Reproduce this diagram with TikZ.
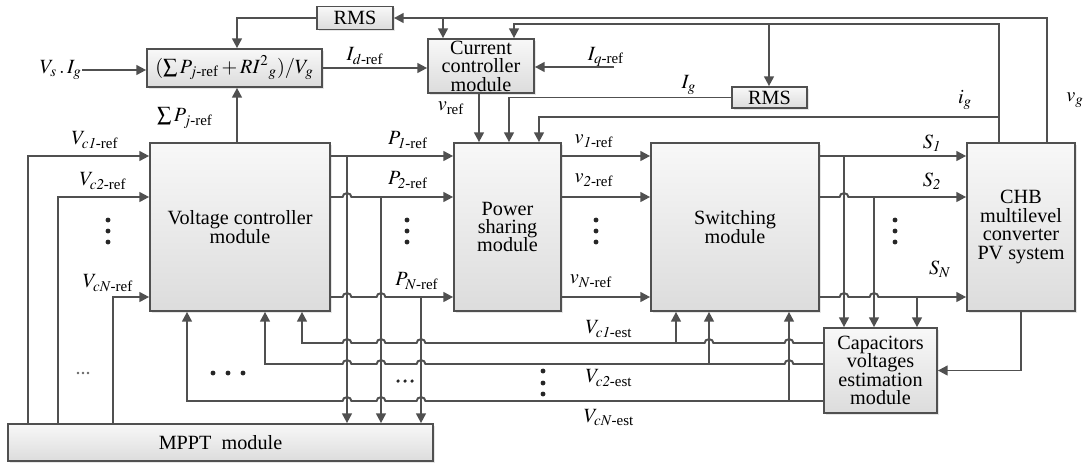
\documentclass[tikz,border=0pt]{standalone}
\usepackage{amsmath}
\usepackage{mathptmx}
\usepackage{fontspec}
\setmainfont{Liberation Serif}
\usetikzlibrary{arrows.meta, calc, shadows}
\definecolor{lineGray}{HTML}{505050}
\definecolor{boxTop}{HTML}{F8F8F8}
\definecolor{boxBottom}{HTML}{DCDCDC}
% wire jumping over a crossing wire (drawn to the right / to the left)
\newcommand{\hopR}[2]{-- ($(#1 |- #2)+(-2.5pt,0pt)$) arc[start angle=180, end angle=0, x radius=2.5pt, y radius=2.2pt]}
\newcommand{\hopL}[2]{-- ($(#1 |- #2)+(2.5pt,0pt)$) arc[start angle=0, end angle=180, x radius=2.5pt, y radius=2.2pt]}

\begin{document}
\begin{tikzpicture}[x=0.02cm, y=-0.02cm,
    font=\rmfamily\fontsize{11.5}{10.5}\selectfont,
    box/.style={draw=lineGray, line width=1pt, top color=boxTop, bottom color=boxBottom,
                align=center, inner sep=1pt,
                drop shadow={shadow xshift=1pt, shadow yshift=-1pt, opacity=0.2}},
    wire/.style={draw=lineGray, line width=1.1pt},
    arr/.style={wire, -{Triangle[length=5.5pt, width=5.5pt]}},
    lab/.style={inner sep=0pt},
    dot/.style={fill=black!85}
  ]
  \useasboundingbox (0,0) rectangle (1084,463);

  % blocks
  \node[box, minimum width=1.52cm, minimum height=0.46cm] (rms1) at (355,18) {RMS};
  \node[box, minimum width=3.5cm, minimum height=0.76cm] (form) at (234.5,68)
    {$(\sum P_{j\text{-ref}} + RI^{2}{}_{g})/V_{g}$};
  \node[box, minimum width=2.12cm, minimum height=1.04cm] (cc) at (481,66) {Current\\controller\\module};
  \node[box, minimum width=1.5cm, minimum height=0.42cm] (rms2) at (769.5,97.5) {RMS};
  \node[box, minimum width=3.6cm, minimum height=3.36cm] (vc) at (240,227) {Voltage controller\\module};
  \node[box, minimum width=2.14cm, minimum height=3.36cm] (ps) at (507.5,227) {Power\\sharing\\module};
  \node[box, minimum width=3.36cm, minimum height=3.36cm] (sw) at (735,227) {Switching\\module};
  \node[box, minimum width=2.16cm, minimum height=3.36cm] (chb) at (1021,227)
    {CHB\\multilevel\\converter\\PV system};
  \node[box, minimum width=2.26cm, minimum height=1.7cm] (cve) at (880.5,370.5)
    {Capacitors\\voltages\\estimation\\module};
  \node[box, minimum width=8.5cm, minimum height=0.74cm] (mppt) at (220.5,442.5) {MPPT\ \ module};

  % wire columns and rows
  \foreach \n/\x in {mp1/28, mp2/58, mpN/113, fbN/187, sumx/237, fb2/265, fb1/302,
                     tap1/347, tap2/381, tapN/421, vgcc/443, ccout/479, rmsps/509,
                     igcc/514, igps/539, up1/676, up2/709, igrms/769, upN/789,
                     st1/844, st2/874, stN/917, igx/999, vgx/1047}
    \coordinate (\n) at (\x,0);
  \foreach \n/\y in {vgy/18, igy/24, igpsy/117, row1/156, row2/197, rowN/297,
                     est1/343, est2/364, estN/401}
    \coordinate (\n) at (0,\y);
  \coordinate (iqin) at (614,67);

  % labels
  \node[lab, anchor=east] (vsig) at (82,70) {$V_{s}\,.\,I_{g}$};
  \node[lab] (idref) at (365,56) {$I_{d\text{-ref}}$};
  \node[lab] (iqref) at (606,57) {$I_{q\text{-ref}}$};
  \node[lab] (sumlab) at (185,118) {$\sum P_{j\text{-ref}}$};
  \node[lab] (vref) at (451,108) {$v_{\text{ref}}$};
  \node[lab] (iglab) at (689,85) {$I_{g}$};
  \node[lab] (igsmall) at (965,100) {$i_{g}$};
  \node[lab] (vglab) at (1075,100) {$v_{g}$};
  \node[lab] (vc1ref) at (95,140) {$V_{c\mathit{1}\text{-ref}}$};
  \node[lab] (vc2ref) at (103,181) {$V_{c\mathit{2}\text{-ref}}$};
  \node[lab] (vcnref) at (108,283) {$V_{cN\text{-ref}}$};
  \node[lab] (p1ref) at (408,140) {$P_{\mathit{1}\text{-ref}}$};
  \node[lab] (p2ref) at (408,180) {$P_{\mathit{2}\text{-ref}}$};
  \node[lab] (pnref) at (417,281) {$P_{N\text{-ref}}$};
  \node[lab] (v1ref) at (594,141) {$v_{\mathit{1}\text{-ref}}$};
  \node[lab] (v2ref) at (594,180) {$v_{\mathit{2}\text{-ref}}$};
  \node[lab] (vnref) at (591,281) {$v_{N\text{-ref}}$};
  \node[lab] (s1lab) at (932,143) {$S_{\mathit{1}}$};
  \node[lab] (s2lab) at (932,181) {$S_{\mathit{2}}$};
  \node[lab] (snlab) at (940,269) {$S_{N}$};
  \node[lab] (vc1est) at (609,329) {$V_{c\mathit{1}\text{-est}}$};
  \node[lab] (vc2est) at (609,378) {$V_{c\mathit{2}\text{-est}}$};
  \node[lab] (vcnest) at (609,418) {$V_{cN\text{-est}}$};

  % top feedback wires
  \draw[arr] (vgx |- chb.north) -- (vgx |- vgy) -- (rms1.east |- vgy);
  \draw[arr] (vgcc |- vgy) -- (vgcc |- cc.north);
  \draw[arr] (igx |- chb.north) -- (igx |- igy) -- (igcc |- igy) -- (igcc |- cc.north);
  \draw[arr] (igrms |- igy) -- (igrms |- rms2.north);
  \draw[arr] (rms1.west) -- (sumx |- rms1.west) -- (sumx |- form.north);
  \draw[arr] (sumx |- vc.north) -- (sumx |- form.south);
  \draw[arr] (vsig.east) -- (vsig.east -| form.west);
  \draw[arr] (form.east) -- (form.east -| cc.west);
  \draw[arr] (iqin) -- (iqin -| cc.east);
  \draw[arr] (ccout |- cc.south) -- (ccout |- ps.north);
  \draw[arr] (rms2.west) -- (rmsps |- rms2.west) -- (rmsps |- ps.north);
  \draw[arr] (igx |- igpsy) -- (igps |- igpsy) -- (igps |- ps.north);

  % references from MPPT
  \draw[arr] (mp1 |- mppt.north) -- (mp1 |- row1) -- (vc.west |- row1);
  \draw[arr] (mp2 |- mppt.north) -- (mp2 |- row2) -- (vc.west |- row2);
  \draw[arr] (mpN |- mppt.north) -- (mpN |- rowN) -- (vc.west |- rowN);

  % powers
  \draw[arr] (vc.east |- row1) -- (ps.west |- row1);
  \draw[arr] (vc.east |- row2) \hopR{tap1}{row2} -- (ps.west |- row2);
  \draw[arr] (vc.east |- rowN) \hopR{tap1}{rowN} \hopR{tap2}{rowN} -- (ps.west |- rowN);
  \draw[arr] (tap1 |- row1) -- (tap1 |- mppt.north);
  \draw[arr] (tap2 |- row2) -- (tap2 |- mppt.north);
  \draw[arr] (tapN |- rowN) -- (tapN |- mppt.north);

  % voltage references
  \foreach \r in {row1, row2, rowN}
    \draw[arr] (ps.east |- \r) -- (sw.west |- \r);

  % switching signals
  \draw[arr] (sw.east |- row1) -- (chb.west |- row1);
  \draw[arr] (sw.east |- row2) \hopR{st1}{row2} -- (chb.west |- row2);
  \draw[arr] (sw.east |- rowN) \hopR{st1}{rowN} \hopR{st2}{rowN} -- (chb.west |- rowN);
  \draw[arr] (st1 |- row1) -- (st1 |- cve.north);
  \draw[arr] (st2 |- row2) -- (st2 |- cve.north);
  \draw[arr] (stN |- rowN) -- (stN |- cve.north);

  % estimated voltages
  \draw[arr] (cve.west |- est1) \hopL{upN}{est1} \hopL{up2}{est1} \hopL{tapN}{est1}
    \hopL{tap2}{est1} \hopL{tap1}{est1} -- (fb1 |- est1) -- (fb1 |- vc.south);
  \draw[arr] (up1 |- est1) -- (up1 |- sw.south);
  \draw[arr] (cve.west |- est2) \hopL{upN}{est2} \hopL{tapN}{est2}
    \hopL{tap2}{est2} \hopL{tap1}{est2} -- (fb2 |- est2) -- (fb2 |- vc.south);
  \draw[arr] (up2 |- est2) -- (up2 |- sw.south);
  \draw[arr] (cve.west |- estN) \hopL{tapN}{estN} \hopL{tap2}{estN} \hopL{tap1}{estN}
    -- (fbN |- estN) -- (fbN |- vc.south);
  \draw[arr] (upN |- estN) -- (upN |- sw.south);
  \draw[arr] (chb.south) -- (chb.south |- cve.east) -- (cve.east);

  % dots
  \foreach \x in {108, 407, 596, 895}
    \foreach \y in {220, 231, 242}
      \fill[dot] (\x,\y) circle[radius=1.4pt];
  \foreach \y in {371, 383, 394}
    \fill[dot] (543,\y) circle[radius=1.4pt];
  \foreach \x in {213, 228, 243}
    \fill[dot] (\x,373) circle[radius=1.4pt];
  \foreach \x in {398, 405, 412}
    \fill[dot] (\x,381) circle[radius=1pt];
  \foreach \x in {78, 83, 88}
    \fill[black!60] (\x,373) circle[radius=0.8pt];
\end{tikzpicture}
\end{document}
